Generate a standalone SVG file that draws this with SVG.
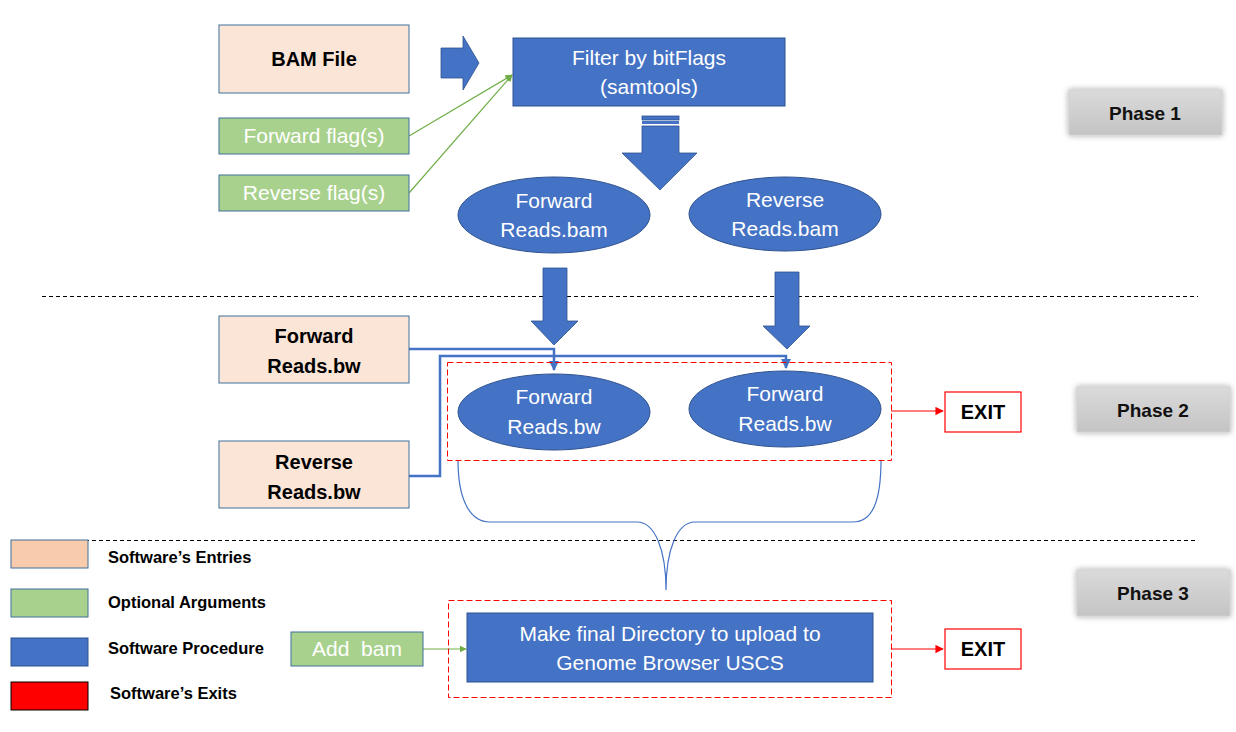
<svg xmlns="http://www.w3.org/2000/svg" width="1236" height="732" viewBox="0 0 1236 732">
<defs>
<style>
.entry{fill:#FBE5D6;stroke:#41719C;stroke-width:1}
.opt{fill:#A9D18E;stroke:#41719C;stroke-width:1}
.proc{fill:#4472C4;stroke:#2F528F;stroke-width:1}
.exitbox{fill:#fff;stroke:#FF0000;stroke-width:1.2}
.wt{font-family:"Liberation Sans",Arial,sans-serif;font-size:21px;fill:#fff;text-anchor:middle}
.bt{font-family:"Liberation Sans",Arial,sans-serif;font-size:20px;font-weight:bold;fill:#000;text-anchor:middle}
.lt{font-family:"Liberation Sans",Arial,sans-serif;font-size:16.5px;font-weight:bold;fill:#000}
.ph{font-family:"Liberation Sans",Arial,sans-serif;font-size:19px;font-weight:bold;fill:#111;text-anchor:middle}
.sep{stroke:#000;stroke-width:1;stroke-dasharray:4 3;fill:none}
.red{stroke:#FF0000;stroke-width:1;stroke-dasharray:6 3;fill:none}
.blk{fill:#4472C4;stroke:#2F528F;stroke-width:0.8}
</style>
<marker id="ag" viewBox="0 0 10 10" refX="9" refY="5" markerWidth="6" markerHeight="6" orient="auto-start-reverse"><path d="M0,0 L10,5 L0,10 z" fill="#70AD47"/></marker>
<marker id="ab" viewBox="0 0 10 10" refX="9" refY="5" markerWidth="4" markerHeight="4" orient="auto"><path d="M0,0 L10,5 L0,10 z" fill="#4472C4"/></marker>
<marker id="ar" viewBox="0 0 10 10" refX="9" refY="5" markerWidth="7" markerHeight="7" orient="auto"><path d="M0,0 L10,5 L0,10 z" fill="#FF0000"/></marker>
<linearGradient id="pg" x1="0" y1="0" x2="0" y2="1"><stop offset="0" stop-color="#DADADA"/><stop offset="1" stop-color="#C4C4C4"/></linearGradient>
<filter id="sh" x="-20%" y="-40%" width="140%" height="180%"><feGaussianBlur in="SourceAlpha" stdDeviation="3"/><feComponentTransfer><feFuncA type="linear" slope="0.35"/></feComponentTransfer><feMerge><feMergeNode/><feMergeNode in="SourceGraphic"/></feMerge></filter>
</defs>
<rect width="1236" height="732" fill="#fff"/>

<!-- separators -->
<line class="sep" x1="42" y1="296.5" x2="1198" y2="296.5"/>
<line class="sep" x1="50" y1="540.5" x2="1198" y2="540.5"/>

<!-- phase labels -->
<g id="phase1"><rect x="1069" y="90" width="153" height="45" fill="url(#pg)" stroke="#D0D0D0" filter="url(#sh)"/><text class="ph" x="1145" y="120">Phase 1</text></g>
<g id="phase2"><rect x="1077" y="387" width="153" height="45" fill="url(#pg)" stroke="#D0D0D0" filter="url(#sh)"/><text class="ph" x="1153" y="417">Phase 2</text></g>
<g id="phase3"><rect x="1077" y="570" width="153" height="46" fill="url(#pg)" stroke="#D0D0D0" filter="url(#sh)"/><text class="ph" x="1153" y="600">Phase 3</text></g>

<!-- connectors -->
<g id="connectors">
<path d="M441,48 H463 V36 L479,63 L463,90 V78 H441 Z" class="blk"/>
<line x1="409" y1="136" x2="512" y2="75" stroke="#70AD47" stroke-width="1.2" marker-end="url(#ag)"/>
<line x1="409" y1="193" x2="512" y2="75" stroke="#70AD47" stroke-width="1.2" marker-end="url(#ag)"/>
<rect x="642" y="116" width="37" height="4" class="blk"/>
<rect x="642" y="121" width="37" height="3" fill="#4472C4"/>
<path d="M642,126 H679 V153 H697 L660,190 L622,153 H642 Z" class="blk"/>
<path d="M543,268 H567 V321 H578 L554,345 L531,321 H543 Z" class="blk"/>
<path d="M775,272 H799 V326 H810 L787,349 L763,326 H775 Z" class="blk"/>
<polyline points="409,349 554,349 554,370" fill="none" stroke="#4472C4" stroke-width="2.5" marker-end="url(#ab)"/>
<polyline points="409,476 440,476 440,356 786,356 786,368" fill="none" stroke="#4472C4" stroke-width="2.5" marker-end="url(#ab)"/>
<line x1="891" y1="411" x2="943" y2="411" stroke="#FF0000" stroke-width="1.2" marker-end="url(#ar)"/>
<line x1="891" y1="649" x2="943" y2="649" stroke="#FF0000" stroke-width="1.2" marker-end="url(#ar)"/>
<line x1="423" y1="649" x2="466" y2="649" stroke="#70AD47" stroke-width="1.2" marker-end="url(#ag)"/>
<path d="M458,460 C458,500 470,522 490,522 H637 C655,522 666,550 666,590 C666,550 677,522 695,522 H853 C873,522 881,500 881,460" fill="none" stroke="#4472C4" stroke-width="1.2"/>
</g>

<!-- phase 1 nodes -->
<g id="bam"><rect class="entry" x="219" y="25" width="190" height="68"/><text class="bt" x="314" y="66">BAM File</text></g>
<g id="filter"><rect class="proc" x="513" y="38" width="272" height="68"/><text class="wt" x="649" y="65">Filter by bitFlags</text><text class="wt" x="649" y="94">(samtools)</text></g>
<g id="fwdflag"><rect class="opt" x="219" y="118" width="190" height="36"/><text class="wt" x="314" y="143">Forward flag(s)</text></g>
<g id="revflag"><rect class="opt" x="219" y="175" width="190" height="36"/><text class="wt" x="314" y="200">Reverse flag(s)</text></g>
<g id="fwdbam"><ellipse class="proc" cx="554" cy="215" rx="96" ry="38"/><text class="wt" x="554" y="208">Forward</text><text class="wt" x="554" y="237">Reads.bam</text></g>
<g id="revbam"><ellipse class="proc" cx="785" cy="214" rx="96" ry="37"/><text class="wt" x="785" y="207">Reverse</text><text class="wt" x="785" y="236">Reads.bam</text></g>

<!-- phase 2 nodes -->
<g id="fwdbw_in"><rect class="entry" x="219" y="316" width="190" height="67"/><text class="bt" x="314" y="343">Forward</text><text class="bt" x="314" y="373">Reads.bw</text></g>
<g id="revbw_in"><rect class="entry" x="219" y="441" width="190" height="67"/><text class="bt" x="314" y="469">Reverse</text><text class="bt" x="314" y="499">Reads.bw</text></g>
<g id="phase2box"><rect class="red" x="447.5" y="362.5" width="444" height="98"/></g>
<g id="fwdbw"><ellipse class="proc" cx="554" cy="412" rx="96" ry="38"/><text class="wt" x="554" y="404">Forward</text><text class="wt" x="554" y="434">Reads.bw</text></g>
<g id="fwdbw2"><ellipse class="proc" cx="785" cy="409" rx="96" ry="38"/><text class="wt" x="785" y="401">Forward</text><text class="wt" x="785" y="431">Reads.bw</text></g>
<g id="exit1"><rect class="exitbox" x="945" y="392" width="76" height="40"/><text class="bt" x="983" y="419">EXIT</text></g>

<!-- phase 3 nodes -->
<g id="phase3box"><rect class="red" x="448.5" y="600.5" width="443" height="97"/></g>
<g id="makedir"><rect class="proc" x="467" y="613" width="406" height="69"/><text class="wt" x="670" y="641">Make final Directory to upload to</text><text class="wt" x="670" y="670">Genome Browser USCS</text></g>
<g id="addbam"><rect class="opt" x="291" y="632" width="132" height="34"/><text class="wt" x="357" y="656">Add&#160; bam</text></g>
<g id="exit2"><rect class="exitbox" x="945" y="629" width="76" height="40"/><text class="bt" x="983" y="656">EXIT</text></g>

<!-- legend -->
<g id="legend">
<rect x="11" y="540" width="77" height="28" fill="#F8CBAD" stroke="#41719C"/>
<text class="lt" x="108" y="563">Software’s Entries</text>
<rect x="11" y="589" width="77" height="28" fill="#A9D18E" stroke="#41719C"/>
<text class="lt" x="108" y="608">Optional Arguments</text>
<rect x="11" y="638" width="77" height="28" fill="#4472C4" stroke="#2F528F"/>
<text class="lt" x="108" y="654">Software Procedure</text>
<rect x="11" y="682" width="77" height="28" fill="#FF0000" stroke="#000"/>
<text class="lt" x="110" y="699">Software’s Exits</text>
</g>
</svg>
